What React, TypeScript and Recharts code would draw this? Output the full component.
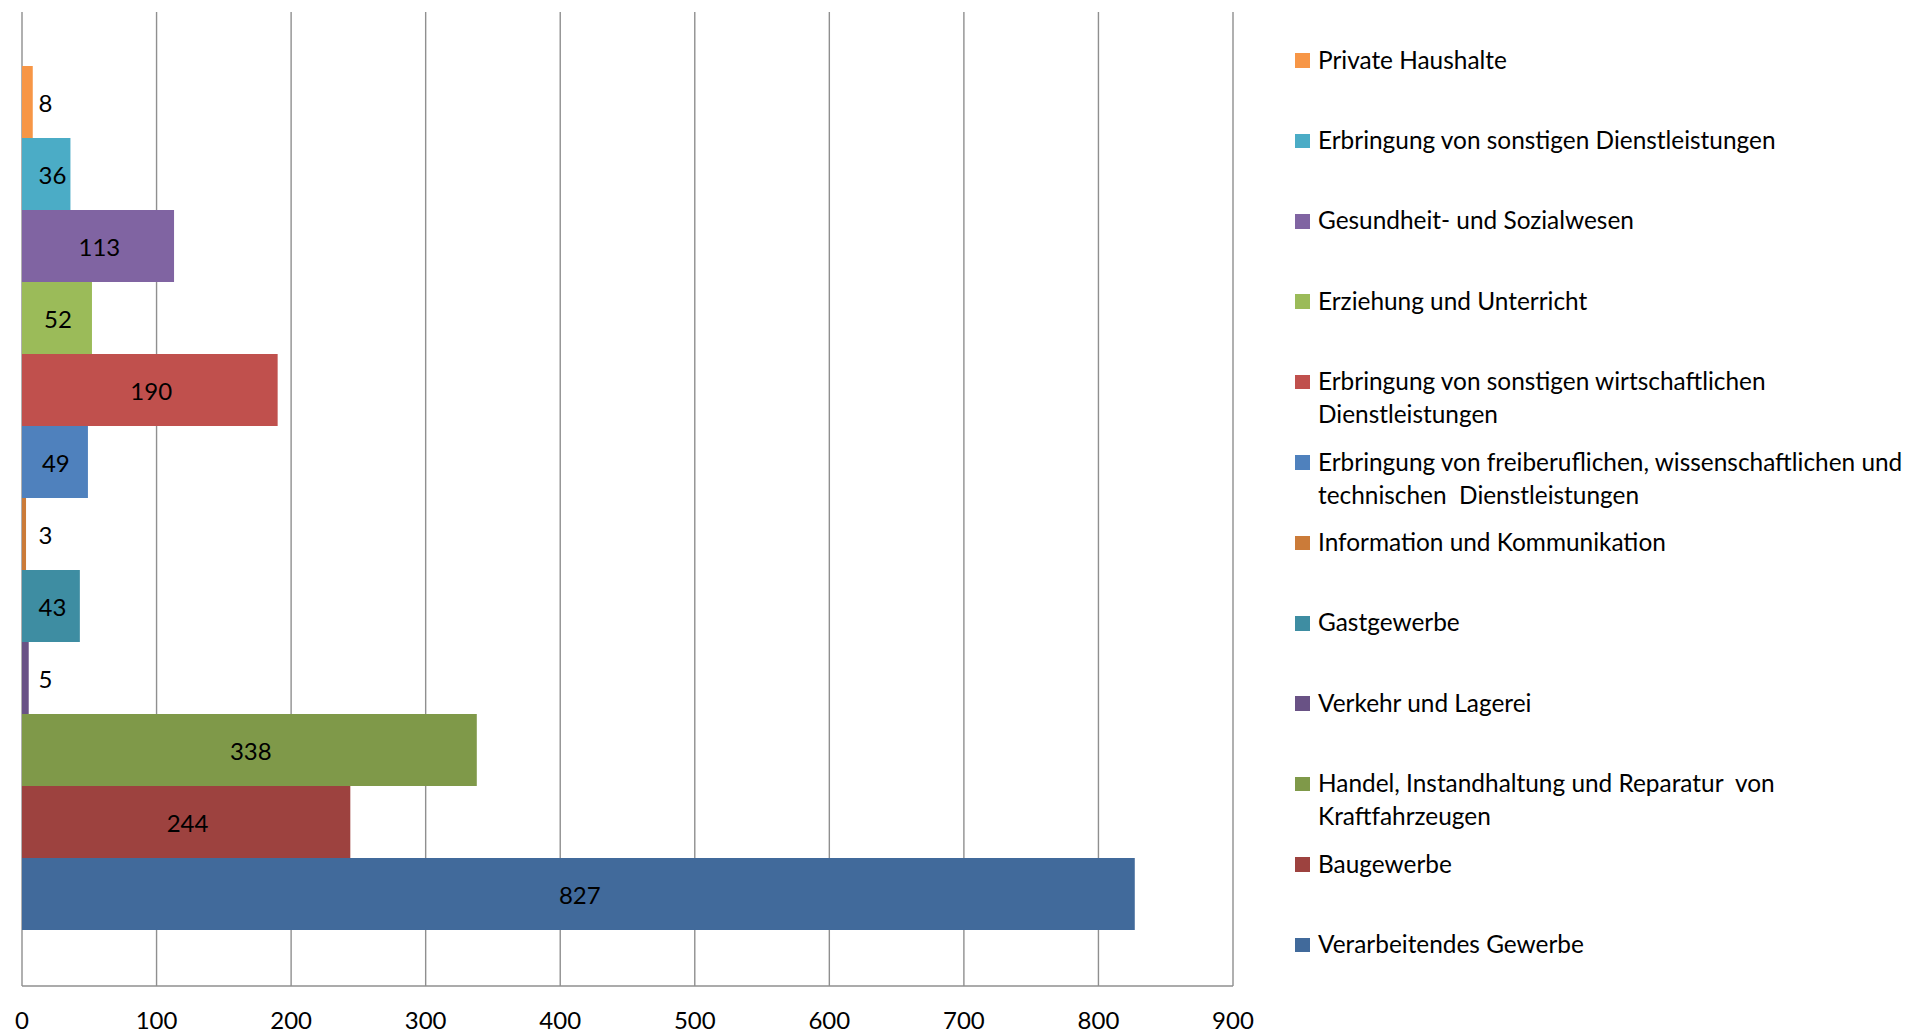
import React from 'react';
import { BarChart, Bar, XAxis, YAxis, CartesianGrid, Legend, LabelList } from 'recharts';

// top to bottom, as drawn; '\n' marks where the legend text wraps
const categories = [
  'Private Haushalte',
  'Erbringung von sonstigen Dienstleistungen',
  'Gesundheit- und Sozialwesen',
  'Erziehung und Unterricht',
  'Erbringung von sonstigen wirtschaftlichen\nDienstleistungen',
  'Erbringung von freiberuflichen, wissenschaftlichen und\ntechnischen  Dienstleistungen',
  'Information und Kommunikation',
  'Gastgewerbe',
  'Verkehr und Lagerei',
  'Handel, Instandhaltung und Reparatur  von\nKraftfahrzeugen',
  'Baugewerbe',
  'Verarbeitendes Gewerbe',
];

const values = [8, 36, 113, 52, 190, 49, 3, 43, 5, 338, 244, 827];

const colors = [
  '#F79646', '#4BACC6', '#8064A2', '#9BBB59', '#C0504D', '#4F81BD',
  '#CB7B39', '#3E8DA2', '#695285', '#7F9949', '#9D423F', '#416A9B',
];

const xTicks = [0, 100, 200, 300, 400, 500, 600, 700, 800, 900];

const row: Record<string, number | string> = { name: 'Betriebe' };
values.forEach((v, i) => {
  row[`s${i}`] = v;
});
const data = [row];

const FONT = 'Lato, "Open Sans", sans-serif';
const FS = 24;

const renderValue = (props: any) => {
  const x = Number(props.x);
  const y = Number(props.y);
  const w = Number(props.width);
  const h = Number(props.height);
  const text = String(props.value);
  const tw = text.length * 13;
  const left = Math.max(x + w / 2 - tw / 2, x + 16.5);
  return (
    <text x={left} y={y + h / 2} dominantBaseline="central" fontSize={FS} fontFamily={FONT} fill="#000">
      {text}
    </text>
  );
};

// legend keeps the drawing order (top to bottom), not sorted by name
const renderLegend = () => (
  <div style={{ position: 'relative', width: 620, height: 1033, fontFamily: FONT, fontSize: 24.4, color: '#000' }}>
    {categories.map((c, i) => (
      <div key={c} style={{ position: 'absolute', left: 0, top: 42.5 + i * 80.4 }}>
        <div
          style={{
            position: 'absolute',
            left: 0,
            top: 10.75,
            width: 15,
            height: 14.5,
            background: colors[i],
          }}
        />
        <div style={{ position: 'absolute', left: 23, top: 0, whiteSpace: 'pre', lineHeight: '33px' }}>{c}</div>
      </div>
    ))}
  </div>
);

export default function App() {
  return (
    <div style={{ position: 'absolute', left: 0, top: 0, width: 1915, height: 1033, background: '#fff' }}>
      <BarChart
        width={1915}
        height={1033}
        data={data}
        layout="vertical"
        margin={{ top: 12, right: 682, bottom: 0, left: 22 }}
        barCategoryGap={54}
        barGap={0}
        style={{ fontFamily: FONT }}
      >
        <CartesianGrid horizontal={false} stroke="#8f8f8f" strokeWidth={1.4} />
        <XAxis
          type="number"
          domain={[0, 900]}
          ticks={xTicks}
          height={47}
          tickLine={false}
          tickSize={6}
          tickMargin={20}
          axisLine={{ stroke: '#8f8f8f', strokeWidth: 1.4 }}
          tick={{ fontSize: FS, fill: '#000', fontFamily: FONT }}
        />
        <YAxis type="category" dataKey="name" hide />
        <Legend
          layout="vertical"
          align="center"
          verticalAlign="middle"
          content={renderLegend}
          wrapperStyle={{ left: 1295, top: 0, width: 620, height: 1033 }}
        />
        {categories.map((c, i) => (
          <Bar key={c} dataKey={`s${i}`} name={c} fill={colors[i]} isAnimationActive={false}>
            <LabelList dataKey={`s${i}`} content={renderValue} />
          </Bar>
        ))}
      </BarChart>
    </div>
  );
}
